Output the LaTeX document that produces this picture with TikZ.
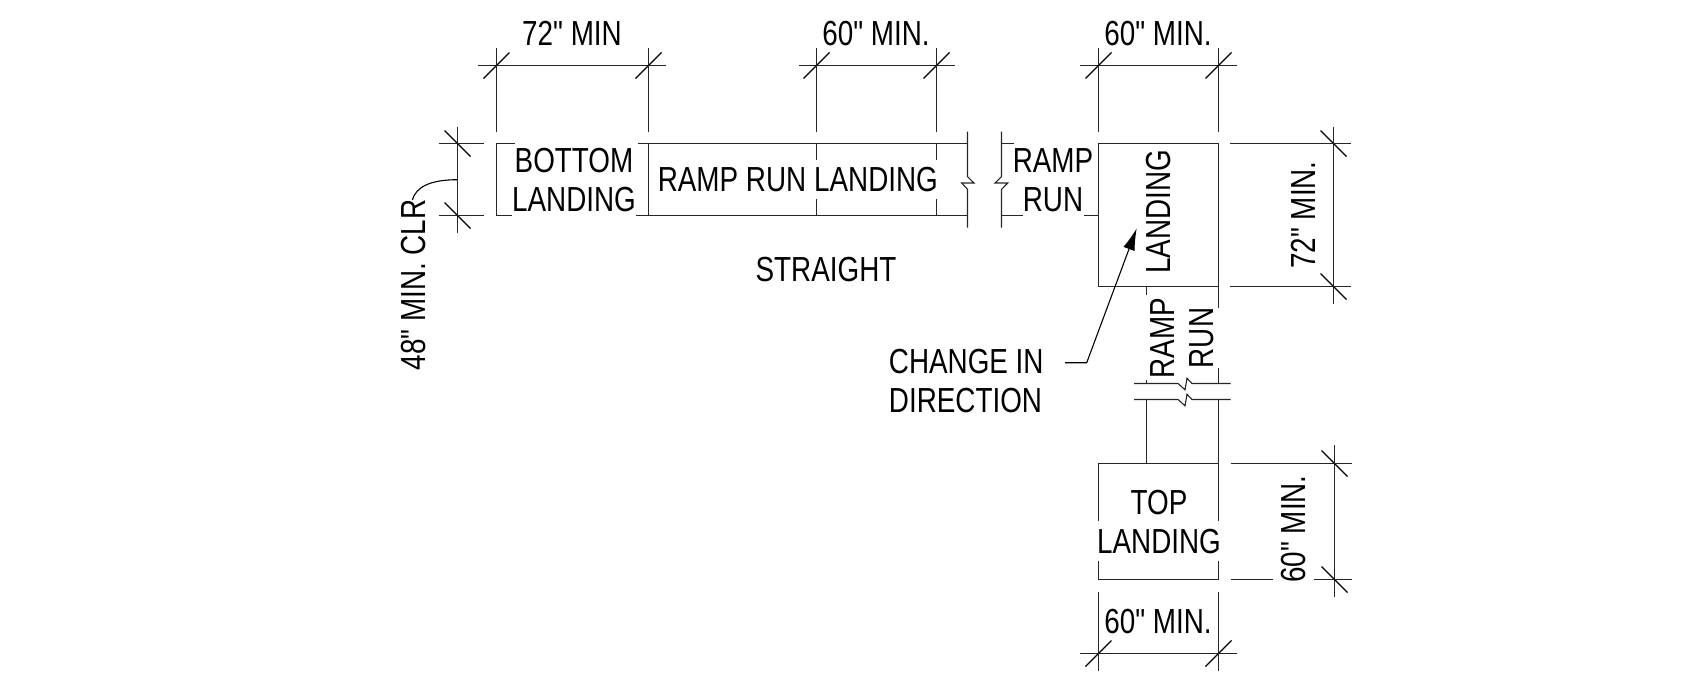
\documentclass[tikz,border=0pt]{standalone}
\usepackage{fontspec}
\newfontfamily\drawfont[FakeStretch=0.8]{Liberation Sans}
\usetikzlibrary{arrows.meta}
\tikzset{
  ln/.style={line width=0.55pt,black!85},
  slash/.style={line width=0.6pt,black},
  lbl/.style={inner sep=0pt,align=center,font=\drawfont\fontsize{17.4}{19.5}\selectfont},
  lblL/.style={inner sep=0pt,align=left,font=\drawfont\fontsize{17.4}{19.5}\selectfont},
  leader/.style={line width=0.55pt,black}
}
\begin{document}
\begin{tikzpicture}[x=0.5pt,y=-0.5pt]
\useasboundingbox (0,0) rectangle (1695,693);
% horizontal dimensions
\foreach \a/\b/\c/\d/\y in {478/496.5/648.5/666.4/65.5, 798.6/816.5/936.5/954.6/65.5, 1080/1098.5/1218.5/1236.7/65.5, 1080/1098.5/1218.5/1236.7/653.5}{
  \draw[ln] (\a,\y) -- (\d,\y);
  \draw[slash] (\b-13,\y+13) -- (\b+13,\y-13);
  \draw[slash] (\c-13,\y+13) -- (\c+13,\y-13);
}
\foreach \x in {496.5,648.5,816.5,936.5,1098.5,1218.5}{\draw[ln] (\x,47.7) -- (\x,131.7);}
\foreach \x in {1098.5,1218.5}{\draw[ln] (\x,591.7) -- (\x,670.7);}
% vertical dimensions
\foreach \x/\p/\q/\r/\s in {457.5/126.5/143.5/215.5/233, 1333.5/126.5/143.5/286.5/304, 1334.5/445/463.5/579.5/597}{
  \draw[ln] (\x,\p) -- (\x,\s);
  \draw[slash] (\x-13,\q-13) -- (\x+13,\q+13);
  \draw[slash] (\x-13,\r-13) -- (\x+13,\r+13);
}
\draw[ln] (439,143.5) -- (484,143.5) (439,215.5) -- (484,215.5);
\draw[ln] (1230,143.5) -- (1351,143.5) (1230,286.5) -- (1351,286.5);
\draw[ln] (1231,463.5) -- (1352,463.5) (1231,579.5) -- (1272.7,579.5) (1314,579.5) -- (1352,579.5);
% straight run
\draw[ln] (515,143.5) -- (496.5,143.5) -- (496.5,215.5) -- (511.7,215.5);
\draw[ln] (638,143.5) -- (967.5,143.5) (636,215.5) -- (967.5,215.5);
\draw[ln] (648.5,143.5) -- (648.5,215.5);
\foreach \x in {816.5,936.5}{\draw[ln] (\x,143.5) -- (\x,160) (\x,199) -- (\x,215.5);}
% break lines
\draw[ln] (967.5,131.7) -- (967.5,176.7) -- (974,183) -- (961.7,183) -- (967.5,189.3) -- (967.5,227.7);
\draw[ln] (1001.5,131.7) -- (1001.5,176.7) -- (995,183) -- (1007.7,183) -- (1001.5,189.3) -- (1001.5,227.7);
\draw[ln] (1001.5,143.5) -- (1014,143.5) (1001.5,215.5) -- (1023,215.5) (1084,215.5) -- (1098.5,215.5);
% landing
\draw[ln] (1098.5,143.5) rectangle (1218.5,286.5);
% lower ramp
\draw[ln] (1146.5,286.5) -- (1146.5,295) (1146.5,380) -- (1146.5,383.5);
\draw[ln] (1218.5,286.5) -- (1218.5,308) (1218.5,368) -- (1218.5,383.5);
\draw[ln] (1134,383.5) -- (1178,383.5) -- (1185,389.8) -- (1187,378.2) -- (1192,383.5) -- (1230.7,383.5);
\draw[ln] (1134,399.5) -- (1178,399.5) -- (1185,405.8) -- (1187,394.2) -- (1192,399.5) -- (1230.7,399.5);
\draw[ln] (1146.5,399.5) -- (1146.5,463.5);
\draw[ln] (1218.5,399.5) -- (1218.5,521);
% top landing
\draw[ln] (1098.5,521) -- (1098.5,463.5) -- (1218.5,463.5);
\draw[ln] (1098.5,561) -- (1098.5,579.5) -- (1218.5,579.5) -- (1218.5,561);
% labels
\node[lbl] (d72) at (572,33.5) {72" MIN};
\node[lbl] (d60a) at (876,33.5) {60" MIN.};
\node[lbl] (d60b) at (1158,33.5) {60" MIN.};
\node[lbl] (bot) at (574,180) {BOTTOM\\LANDING};
\node[lbl] (run1) at (732,180) {RAMP RUN};
\node[lbl] (land1) at (876,180) {LANDING};
\node[lbl] (str) at (826,270) {STRAIGHT};
\node[lbl] (run2) at (1053,180) {RAMP\\RUN};
\node[lbl,rotate=90] (land2) at (1158,212) {LANDING};
\node[lbl,rotate=90] (d72b) at (1303,215) {72" MIN.};
\node[lbl,rotate=90] (run3) at (1182,338) {RAMP\\RUN};
\node[lblL,anchor=west] (chg) at (888.5,381) {CHANGE IN\\DIRECTION};
\node[lbl] (top) at (1159,522) {TOP\\LANDING};
\node[lbl,rotate=90] (d60c) at (1293.5,529) {60" MIN.};
\node[lbl] (d60d) at (1158,621.5) {60" MIN.};
\node[lbl,rotate=90] (d48) at (414,285) {48" MIN. CLR};
% leaders
\coordinate (tip) at (1136.7,228.3);
\draw[leader,-{Latex[length=11pt,width=6pt]}] (1065,362.7) -- (1086.7,362.7) -- (tip);
\coordinate (dimmid) at (457.5,179.7);
\draw[leader] (dimmid) .. controls (430,179.7) and (416,187) .. (412.3,200);
\end{tikzpicture}
\end{document}
